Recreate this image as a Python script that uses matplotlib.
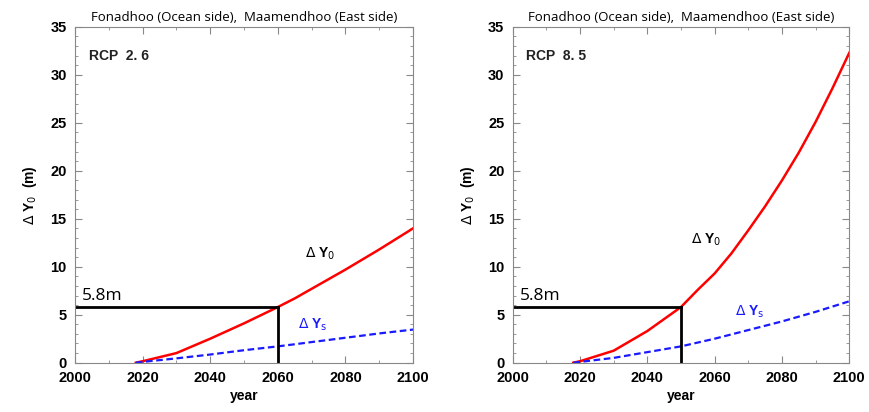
import matplotlib
matplotlib.use("Agg")
import matplotlib.pyplot as plt
from matplotlib.ticker import MultipleLocator

# Values (year, metres).
years = [2018, 2020, 2030, 2040, 2050, 2055, 2060, 2065, 2070, 2075, 2080, 2085, 2090, 2095, 2100]
dy0_rcp26 = [0.0, 0.15, 1.0, 2.5, 4.1, 4.95, 5.8, 6.7, 7.7, 8.7, 9.7, 10.75, 11.8, 12.9, 14.0]
dys_rcp26 = [0.0, 0.08, 0.45, 0.85, 1.3, 1.5, 1.7, 1.92, 2.15, 2.37, 2.6, 2.82, 3.05, 3.25, 3.45]
dy0_rcp85 = [0.0, 0.15, 1.25, 3.3, 5.8, 7.6, 9.3, 11.4, 13.8, 16.3, 19.0, 21.9, 25.1, 28.6, 32.3]
dys_rcp85 = [0.0, 0.08, 0.5, 1.1, 1.7, 2.1, 2.5, 2.95, 3.4, 3.85, 4.3, 4.8, 5.3, 5.85, 6.4]
scenarios = ["RCP  2. 6", "RCP  8. 5"]
cross_year = [2060, 2050]
cross_val = 5.8
title = "Fonadhoo (Ocean side),  Maamendhoo (East side)"

NARROW = ["Liberation Sans Narrow", "Liberation Sans", "DejaVu Sans"]
CAL = ["Open Sans", "DejaVu Sans"]
BLUE = "#1a1aff"

fig = plt.figure(figsize=(8.69, 4.12), dpi=100)
positions = [[0.0863, 0.1197, 0.389, 0.815], [0.590, 0.1197, 0.3873, 0.815]]
series = [(dy0_rcp26, dys_rcp26), (dy0_rcp85, dys_rcp85)]
label_pos = [((2068, 11.0), (2066, 3.6)), ((2053, 12.4), (2066, 4.9))]

for i in range(2):
    ax = fig.add_axes(positions[i])
    y0, ys = series[i]
    ax.plot(years, y0, color="red", lw=1.8)
    ax.plot(years, ys, color=BLUE, lw=1.6, ls=(0, (3, 1.6)))
    # Guide lines at 5.8 m
    ax.plot([2000, cross_year[i]], [cross_val, cross_val], color="black", lw=2)
    ax.plot([cross_year[i], cross_year[i]], [0, cross_val], color="black", lw=2)
    ax.text(2002, 6.5, "5.8m", fontsize=12.5, family=CAL)

    ax.set_xlim(2000, 2100)
    ax.set_ylim(0, 35)
    ax.xaxis.set_major_locator(MultipleLocator(20))
    ax.xaxis.set_minor_locator(MultipleLocator(10))
    ax.yaxis.set_major_locator(MultipleLocator(5))
    ax.yaxis.set_minor_locator(MultipleLocator(1))
    ax.tick_params(which="both", direction="in", top=True, right=True, color="#888888")
    ax.tick_params(which="major", length=5, labelsize=10.5, pad=6)
    ax.tick_params(which="minor", length=2.5)
    for lab in ax.get_xticklabels() + ax.get_yticklabels():
        lab.set_family(NARROW)
        lab.set_fontweight("bold")
    for sp in ax.spines.values():
        sp.set_color("#888888")

    ax.set_title(title, fontsize=9.5, family=CAL, pad=4)
    ax.set_xlabel("year", fontsize=10, fontweight="bold", family=NARROW, labelpad=3)
    ax.set_ylabel(r"$\Delta$ Y$_\mathrm{0}$  (m)", fontsize=10, fontweight="bold",
                  family=NARROW, labelpad=8)
    ax.text(0.04, 0.90, scenarios[i], transform=ax.transAxes, fontsize=10,
            fontweight="bold", family=NARROW, color="#222222")
    (x0, v0), (xs, vs) = label_pos[i]
    ax.text(x0, v0, r"$\Delta$ Y$_\mathrm{0}$", fontsize=10, fontweight="bold", family=NARROW)
    ax.text(xs, vs, r"$\Delta$ Y$_\mathrm{s}$", fontsize=10, fontweight="bold",
            family=NARROW, color=BLUE)

fig.savefig("out.png", dpi=100)
